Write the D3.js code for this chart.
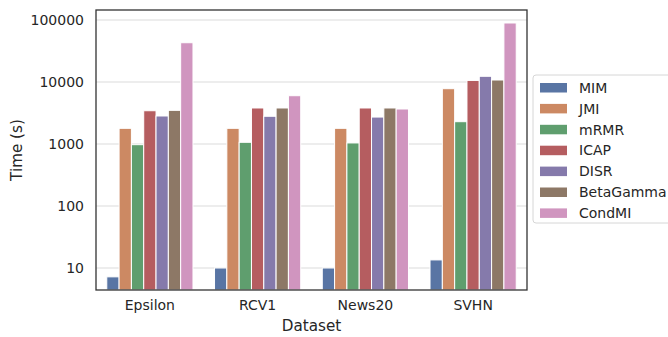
<!DOCTYPE html>
<html>
<head>
<meta charset="utf-8">
<script src="https://cdn.jsdelivr.net/npm/d3@7"></script>
<style>
  body { margin: 0; background: #fff; }
  text { font-family: "DejaVu Sans", sans-serif; fill: #262626; }
</style>
</head>
<body>
<script>
var datasets = ['Epsilon', 'RCV1', 'News20', 'SVHN'];
var methods = ['MIM', 'JMI', 'mRMR', 'ICAP', 'DISR', 'BetaGamma', 'CondMI'];
var colors = ['#5975a4', '#cc8963', '#5f9e6e', '#b55d60', '#857aab', '#8d7866', '#d095bf'];

// time in seconds, one array per method, in dataset order
var MIM       = [7.2, 10, 10, 13.5];
var JMI       = [1790, 1790, 1790, 7800];
var mRMR      = [975, 1065, 1040, 2290];
var ICAP      = [3440, 3810, 3810, 10600];
var DISR      = [2830, 2800, 2720, 12360];
var BetaGamma = [3490, 3810, 3810, 10770];
var CondMI    = [43000, 6010, 3670, 89500];
var yTicks = [10, 100, 1000, 10000, 100000];

var series = [MIM, JMI, mRMR, ICAP, DISR, BetaGamma, CondMI];

var margin = {top: 10, right: 141, bottom: 47, left: 96},
  width = 668 - margin.left - margin.right,
  height = 337 - margin.top - margin.bottom;

var svg = d3.select('body').append('svg')
  .attr('width', 668)
  .attr('height', 337);

var g = svg.append('g')
  .attr('transform', 'translate(' + margin.left + ',' + margin.top + ')');

var x0 = d3.scaleBand().domain(datasets).range([0, width]).paddingInner(0.2).paddingOuter(0.1);
var x1 = d3.scaleBand().domain(methods).range([0, x0.bandwidth()]);
var y = d3.scaleLog().domain([4.418, 145000]).range([height, 0]);

// grid
g.append('g')
  .selectAll('line')
  .data(yTicks)
  .enter().append('line')
  .attr('x1', 0).attr('x2', width)
  .attr('y1', function(d) { return y(d); })
  .attr('y2', function(d) { return y(d); })
  .style('stroke', '#dcdcdc')
  .style('stroke-width', 1.1);

// bars
var groups = g.append('g').selectAll('g')
  .data(methods)
  .enter().append('g')
  .style('fill', function(d, i) { return colors[i]; });

groups.selectAll('rect')
  .data(function(d, i) { return series[i].map(function(v, j) { return {m: d, ds: datasets[j], v: v}; }); })
  .enter().append('rect')
  .attr('x', function(d) { return x0(d.ds) + x1(d.m); })
  .attr('width', x1.bandwidth())
  .attr('y', function(d) { return y(d.v); })
  .attr('height', function(d) { return height - y(d.v); })
  .style('stroke', '#fff')
  .style('stroke-width', 1);

// axes
var yAxis = d3.axisLeft(y).tickValues(yTicks).tickFormat(d3.format('d')).tickSize(0).tickPadding(12);
var gy = g.append('g').call(yAxis);
gy.select('.domain').remove();
gy.selectAll('text').style('font-size', '14px').style('font-family', '"DejaVu Sans", sans-serif').attr('fill', '#262626');

var xAxis = d3.axisBottom(x0).tickSize(0).tickPadding(10);
var gx = g.append('g').attr('transform', 'translate(0,' + height + ')').call(xAxis);
gx.select('.domain').remove();
gx.selectAll('text').style('font-size', '14px').style('font-family', '"DejaVu Sans", sans-serif').attr('fill', '#262626');

// frame
g.append('rect')
  .attr('width', width).attr('height', height)
  .style('fill', 'none')
  .style('stroke', '#333')
  .style('stroke-width', 1.3);

svg.append('text')
  .attr('transform', 'translate(22,' + (margin.top + height / 2) + ') rotate(-90)')
  .style('text-anchor', 'middle')
  .style('font-size', '15.2px')
  .text('Time (s)');

svg.append('text')
  .attr('x', margin.left + width / 2)
  .attr('y', 331)
  .style('text-anchor', 'middle')
  .style('font-size', '15.2px')
  .text('Dataset');

// legend
var legend = svg.append('g').attr('transform', 'translate(533,75)');
legend.append('rect')
  .attr('width', 150).attr('height', 148)
  .attr('rx', 3)
  .style('fill', '#fff')
  .style('stroke', '#d6d6d6')
  .style('stroke-width', 1);

var items = legend.selectAll('.item')
  .data(methods)
  .enter().append('g')
  .attr('class', 'item')
  .attr('transform', function(d, i) { return 'translate(7,' + (12.7 + i * 20.9) + ')'; });

items.append('rect')
  .attr('y', -4.7)
  .attr('width', 27).attr('height', 9.5)
  .style('fill', function(d, i) { return colors[i]; });

items.append('text')
  .attr('x', 39)
  .attr('dy', '0.36em')
  .style('font-size', '14px')
  .text(function(d) { return d; });
</script>
</body>
</html>
